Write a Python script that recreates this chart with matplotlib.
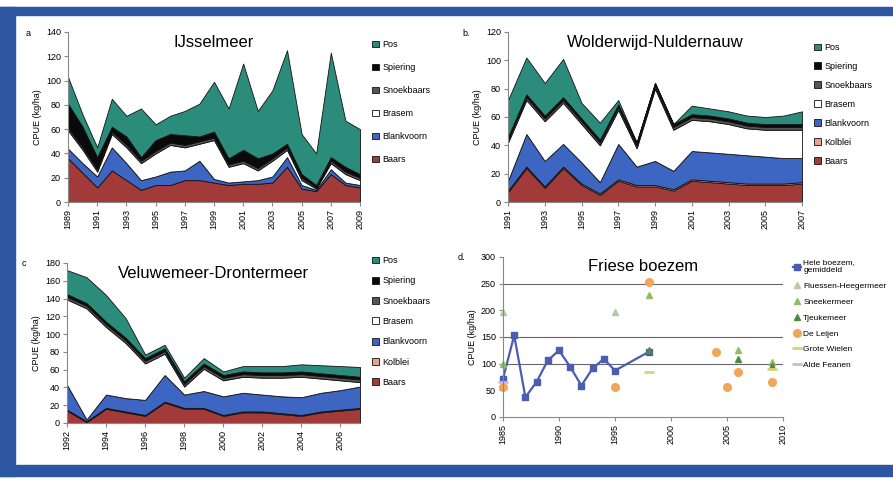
import numpy as np
import matplotlib.pyplot as plt
from matplotlib.patches import Rectangle

# ---- data (CPUE kg/ha per species) ----
species7 = ['Baars', 'Kolblei', 'Blankvoorn', 'Brasem', 'Snoekbaars', 'Spiering', 'Pos']
species6 = ['Baars', 'Blankvoorn', 'Brasem', 'Snoekbaars', 'Spiering', 'Pos']

# a. IJsselmeer
years_a = list(range(1989, 2010))
a_baars = [36, 24, 12, 26, 18, 10, 14, 14, 18, 18, 16, 14, 15, 15, 16, 29, 11, 9, 23, 14, 12]
a_blankvoorn = [8, 8, 9, 19, 14, 8, 7, 11, 8, 16, 3, 2, 2, 3, 5, 8, 3, 1, 4, 2, 2]
a_brasem = [15, 11, 4, 11, 13, 14, 19, 22, 19, 14, 32, 13, 15, 8, 13, 6, 4, 1, 5, 7, 4]
a_snoekbaars = [2, 2, 2, 2, 2, 2, 2, 2, 2, 2, 2, 2, 2, 2, 2, 2, 2, 1, 2, 2, 2]
a_spiering = [20, 17, 10, 4, 7, 3, 9, 7, 8, 4, 5, 5, 9, 8, 4, 3, 3, 2, 3, 4, 3]
a_pos = [22, 10, 8, 23, 17, 40, 13, 15, 20, 27, 41, 41, 71, 39, 52, 77, 33, 26, 86, 38, 37]

# b. Wolderwijd-Nuldernauw
years_b = list(range(1991, 2008))
b_baars = [7, 24, 10, 24, 12, 5, 15, 11, 11, 8, 15, 14, 13, 12, 12, 12, 13]
b_kolblei = [1] * 17
b_blankvoorn = [7, 23, 18, 16, 15, 8, 25, 13, 17, 13, 20, 20, 20, 20, 19, 18, 17]
b_brasem = [27, 24, 28, 29, 27, 26, 24, 13, 51, 29, 22, 22, 21, 19, 19, 20, 20]
b_snoekbaars = [2] * 17
b_spiering = [2] * 17
b_pos = [26, 26, 23, 27, 11, 12, 3, 0, 0, 0, 6, 5, 5, 5, 5, 6, 9]

# c. Veluwemeer-Drontermeer
years_c = list(range(1992, 2008))
c_baars = [14, 1, 16, 12, 8, 23, 16, 16, 8, 12, 12, 10, 8, 12, 14, 16]
c_kolblei = [1] * 16
c_blankvoorn = [28, 2, 15, 15, 17, 30, 15, 19, 21, 21, 19, 19, 20, 21, 22, 24]
c_brasem = [96, 125, 76, 62, 41, 24, 9, 25, 18, 18, 19, 21, 23, 16, 11, 5]
c_snoekbaars = [3] * 16
c_spiering = [3] * 16
c_pos = [27, 29, 30, 22, 4, 4, 4, 6, 4, 6, 7, 7, 8, 9, 10, 11]

# d. Friese boezem
d_mean_years = [1985, 1986, 1987, 1988, 1989, 1990, 1991, 1992, 1993, 1994, 1995, 1998]
d_mean = [72, 153, 37, 66, 106, 125, 94, 59, 91, 109, 87, 122]
d_fluessen_years = [1985, 1995]
d_fluessen = [197, 197]
d_sneek_years = [1985, 1998, 2006, 2009]
d_sneek = [100, 228, 125, 103]
d_tjeuke_years = [1998, 2006, 2009]
d_tjeuke = [125, 108, 95]
d_leijen_years = [1985, 1995, 1998, 2004, 2005, 2006, 2009]
d_leijen = [56, 56, 253, 122, 56, 84, 66]
d_wielen_years = [1998, 2009]
d_wielen = [84, 90]
d_feanen_years = [1985]
d_feanen = [66]

colors7 = ['#a13a38', '#e8a08c', '#3c66c2', '#ffffff', '#555555', '#0a0a0a', '#2c8c7b']
colors6 = ['#a13a38', '#3c66c2', '#ffffff', '#555555', '#0a0a0a', '#2c8c7b']

W, H = 893, 479
fig = plt.figure(figsize=(W / 100, H / 100), dpi=100)
plt.rcParams['font.family'] = ['Liberation Sans', 'DejaVu Sans']

# blue frame
fig.patches.append(Rectangle((0, 1 - 15 / H), 1, 8 / H, transform=fig.transFigure, color='#2c56a2'))
fig.patches.append(Rectangle((0, 1 - 476 / H), 15 / W, 469 / H, transform=fig.transFigure, color='#2c56a2'))
fig.patches.append(Rectangle((0, 1 - 476 / H), 1, 11 / H, transform=fig.transFigure, color='#2c56a2'))


def px_axes(l, t, r, b):
    return fig.add_axes([l / W, 1 - b / H, (r - l) / W, (b - t) / H])


def style(ax):
    for s in ['top', 'right']:
        ax.spines[s].set_visible(False)
    for s in ['left', 'bottom']:
        ax.spines[s].set_color('#888888')
        ax.spines[s].set_linewidth(0.8)
    ax.tick_params(labelsize=6.5, length=3, color='#888888', pad=2)
    ax.set_ylabel('CPUE (kg/ha)', fontsize=6.5, labelpad=3)


def stacked(ax, years, series, names, colors, ymax, ystep, title, tick_years):
    polys = ax.stackplot(years, *series, colors=colors, edgecolor='#111111', linewidth=0.6)
    ax.set_xlim(years[0], years[-1])
    ax.set_ylim(0, ymax)
    ax.set_yticks(np.arange(0, ymax + 1, ystep))
    ax.set_xticks(tick_years)
    ax.set_xticklabels([str(y) for y in tick_years], rotation=90)
    ax.text(0.5, 0.98, title, transform=ax.transAxes, ha='center', va='top', fontsize=12)
    style(ax)
    return polys[::-1], names[::-1]


# a
ax_a = px_axes(68, 32, 360, 202)
h, n = stacked(ax_a, years_a, [a_baars, a_blankvoorn, a_brasem, a_snoekbaars, a_spiering, a_pos],
               species6, colors6, 140, 20, 'IJsselmeer', years_a[::2])
fig.legend(h, n, loc='upper left', bbox_to_anchor=(364 / W, 1 - 32 / H), frameon=False,
           fontsize=6.5, labelspacing=1.55, handlelength=0.8, handleheight=0.8, handletextpad=0.3)
fig.text(26 / W, 1 - 33 / H, 'a', fontsize=6.5, va='center')

# b
ax_b = px_axes(508, 32, 802, 202)
h, n = stacked(ax_b, years_b, [b_baars, b_kolblei, b_blankvoorn, b_brasem, b_snoekbaars, b_spiering, b_pos],
               species7, colors7, 120, 20, 'Wolderwijd-Nuldernauw', years_b[::2])
fig.legend(h, n, loc='upper left', bbox_to_anchor=(806 / W, 1 - 35 / H), frameon=False,
           fontsize=6.5, labelspacing=1.1, handlelength=0.8, handleheight=0.8, handletextpad=0.3)
fig.text(462 / W, 1 - 33 / H, 'b.', fontsize=6.5, va='center')

# c
ax_c = px_axes(67, 263, 360, 423)
h, n = stacked(ax_c, years_c, [c_baars, c_kolblei, c_blankvoorn, c_brasem, c_snoekbaars, c_spiering, c_pos],
               species7, colors7, 180, 20, 'Veluwemeer-Drontermeer', years_c[:-1:2])
fig.legend(h, n, loc='upper left', bbox_to_anchor=(364 / W, 1 - 248 / H), frameon=False,
           fontsize=6.5, labelspacing=1.25, handlelength=0.8, handleheight=0.8, handletextpad=0.3)
fig.text(22 / W, 1 - 263 / H, 'c', fontsize=6.5, va='center')

# d
ax_d = px_axes(503, 257, 783, 417)
for yv in [100, 150, 250]:
    ax_d.axhline(yv, color='#666666', lw=0.8, zorder=0)
ax_d.plot(d_mean_years, d_mean, '-s', color='#4a5db0', lw=1.6, ms=4.5, clip_on=False,
          label='Hele boezem,\ngemiddeld')
ax_d.plot(d_fluessen_years, d_fluessen, '^', color='#b7c7a8', ms=5, clip_on=False, label='Fluessen-Heegermeer')
ax_d.plot(d_sneek_years, d_sneek, '^', color='#8cc063', ms=5, clip_on=False, label='Sneekermeer')
ax_d.plot(d_tjeuke_years, d_tjeuke, '^', color='#4f8a45', ms=5, clip_on=False, label='Tjeukemeer')
ax_d.plot(d_leijen_years, d_leijen, 'o', color='#f2a45a', ms=5.5, clip_on=False, label='De Leijen')
ax_d.plot(d_wielen_years, d_wielen, '_', color='#d9d27a', ms=7, mew=2, clip_on=False, label='Grote Wielen')
ax_d.plot(d_feanen_years, d_feanen, '_', color='#c9b9d9', ms=7, mew=2, clip_on=False, label='Alde Feanen')
ax_d.set_xlim(1985, 2010)
ax_d.set_ylim(0, 300)
ax_d.set_yticks(np.arange(0, 301, 50))
ax_d.set_xticks([1985, 1990, 1995, 2000, 2005, 2010])
ax_d.set_xticklabels(['1985', '1990', '1995', '2000', '2005', '2010'], rotation=90)
ax_d.text(0.5, 0.99, 'Friese boezem', transform=ax_d.transAxes, ha='center', va='top', fontsize=12)
style(ax_d)
ax_d.legend(loc='upper left', bbox_to_anchor=(785 / W, 1 - 252 / H), bbox_transform=fig.transFigure,
            frameon=False, fontsize=6, labelspacing=0.95, handlelength=1.0, handletextpad=0.3)
fig.text(458 / W, 1 - 257 / H, 'd.', fontsize=6.5, va='center')

fig.savefig('out.png', dpi=100)
